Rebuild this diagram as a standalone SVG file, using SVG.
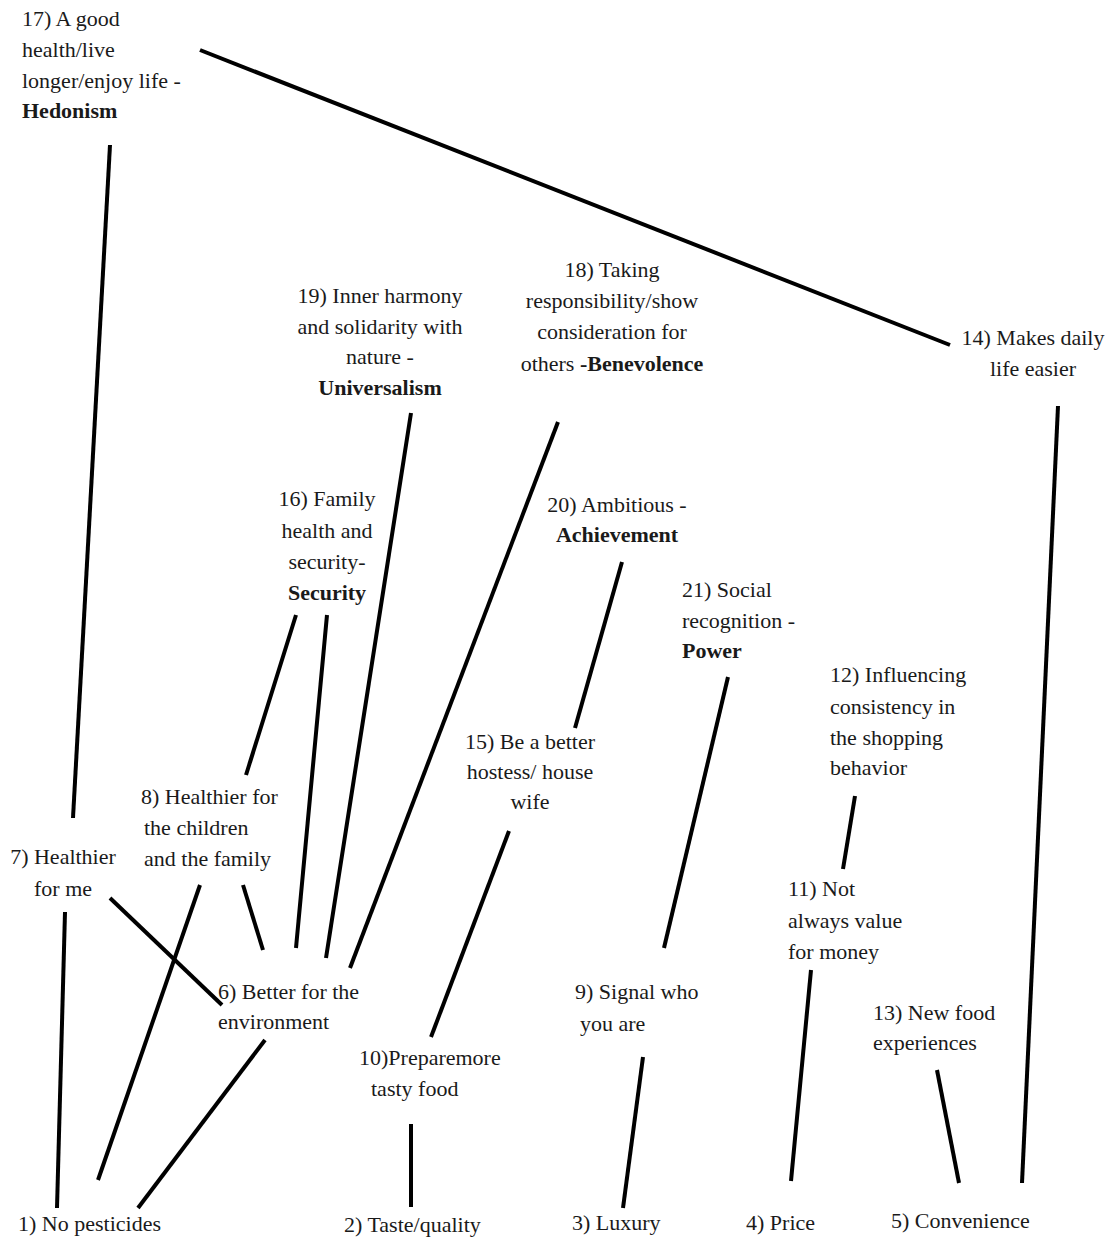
<svg xmlns="http://www.w3.org/2000/svg" width="1113" height="1241" viewBox="0 0 1113 1241">
<style>
text{font-family:"Liberation Serif","Times New Roman",serif;font-size:22px;fill:#1a1a1a}
.m{text-anchor:middle}
.b{font-weight:bold}
#connectors line{stroke:#000;stroke-width:4;stroke-linecap:butt}
</style>
<rect width="1113" height="1241" fill="#fff"/>
<g id="connectors">
<line x1="200" y1="50" x2="950" y2="345"/>
<line x1="110" y1="145" x2="73" y2="818"/>
<line x1="65" y1="912" x2="57" y2="1208"/>
<line x1="110" y1="898" x2="222" y2="1005"/>
<line x1="200" y1="885" x2="98" y2="1180"/>
<line x1="243" y1="885" x2="263" y2="950"/>
<line x1="265" y1="1040" x2="138" y2="1208"/>
<line x1="296" y1="615" x2="246" y2="775"/>
<line x1="327" y1="615" x2="296" y2="948"/>
<line x1="411" y1="413" x2="326" y2="958"/>
<line x1="558" y1="422" x2="350" y2="968"/>
<line x1="622" y1="562" x2="575" y2="728"/>
<line x1="509" y1="831" x2="431" y2="1037"/>
<line x1="411" y1="1124" x2="411" y2="1207"/>
<line x1="728" y1="677" x2="664" y2="948"/>
<line x1="643" y1="1057" x2="623" y2="1208"/>
<line x1="855" y1="796" x2="843" y2="869"/>
<line x1="811" y1="970" x2="791" y2="1181"/>
<line x1="937" y1="1070" x2="959" y2="1183"/>
<line x1="1058" y1="406" x2="1022" y2="1183"/>
</g>
<g id="n17"><text x="22" y="26">17) A good</text><text x="22" y="57">health/live</text><text x="22" y="88">longer/enjoy life -</text><text x="22" y="118" class="b">Hedonism</text></g>
<g id="n19"><text x="380" y="303" class="m">19) Inner harmony</text><text x="380" y="334" class="m">and solidarity with</text><text x="380" y="364" class="m">nature -</text><text x="380" y="395" class="m b">Universalism</text></g>
<g id="n18"><text x="612" y="277" class="m">18) Taking</text><text x="612" y="308" class="m">responsibility/show</text><text x="612" y="339" class="m">consideration for</text><text x="612" y="371" class="m">others <tspan class="b">-Benevolence</tspan></text></g>
<g id="n14"><text x="1033" y="345" class="m">14) Makes daily</text><text x="1033" y="376" class="m">life easier</text></g>
<g id="n16"><text x="327" y="506" class="m">16) Family</text><text x="327" y="538" class="m">health and</text><text x="327" y="569" class="m">security-</text><text x="327" y="600" class="m b">Security</text></g>
<g id="n20"><text x="617" y="512" class="m">20) Ambitious -</text><text x="617" y="542" class="m b">Achievement</text></g>
<g id="n21"><text x="682" y="597">21) Social</text><text x="682" y="628">recognition -</text><text x="682" y="658" class="b">Power</text></g>
<g id="n12"><text x="830" y="682">12) Influencing</text><text x="830" y="714">consistency in</text><text x="830" y="745">the shopping</text><text x="830" y="775">behavior</text></g>
<g id="n15"><text x="530" y="749" class="m">15) Be a better</text><text x="530" y="779" class="m">hostess/ house</text><text x="530" y="809" class="m">wife</text></g>
<g id="n8"><text x="141" y="804">8) Healthier for</text><text x="144" y="835">the children</text><text x="144" y="866">and the family</text></g>
<g id="n7"><text x="63" y="864" class="m">7) Healthier</text><text x="63" y="896" class="m">for me</text></g>
<g id="n11"><text x="788" y="896">11) Not</text><text x="788" y="928">always value</text><text x="788" y="959">for money</text></g>
<g id="n6"><text x="218" y="999">6) Better for the</text><text x="218" y="1029">environment</text></g>
<g id="n9"><text x="575" y="999">9) Signal who</text><text x="580" y="1031">you are</text></g>
<g id="n13"><text x="873" y="1020">13) New food</text><text x="873" y="1050">experiences</text></g>
<g id="n10"><text x="359" y="1065">10)Preparemore</text><text x="371" y="1096">tasty food</text></g>
<g id="n1"><text x="18" y="1231">1) No pesticides</text></g>
<g id="n2"><text x="344" y="1232">2) Taste/quality</text></g>
<g id="n3"><text x="572" y="1230">3) Luxury</text></g>
<g id="n4"><text x="746" y="1230">4) Price</text></g>
<g id="n5"><text x="891" y="1228">5) Convenience</text></g>
</svg>
